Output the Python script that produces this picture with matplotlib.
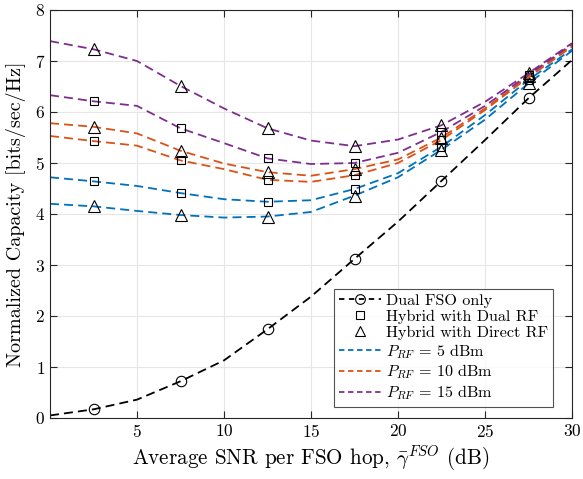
import matplotlib
matplotlib.use("Agg")
import matplotlib.pyplot as plt
import numpy as np

plt.rcParams["font.family"] = ["cmr10", "DejaVu Serif"]
plt.rcParams["mathtext.fontset"] = "cm"
plt.rcParams["axes.formatter.use_mathtext"] = True

# SNR grid (dB) and marker positions
snr = [0, 2.5, 5, 7.5, 10, 12.5, 15, 17.5, 20, 22.5, 25, 27.5, 30]
mark_snr = [2.5, 7.5, 12.5, 17.5, 22.5, 27.5]

dual_fso = [0.05, 0.17, 0.36, 0.72, 1.13, 1.74, 2.38, 3.12, 3.85, 4.65, 5.45, 6.27, 7.02]

# dual RF (squares) and direct RF (triangles) per RF power
dual_rf_5 = [4.72, 4.64, 4.55, 4.41, 4.29, 4.24, 4.27, 4.49, 4.80, 5.32, 5.94, 6.63, 7.23]
direct_rf_5 = [4.20, 4.15, 4.06, 3.98, 3.93, 3.95, 4.04, 4.36, 4.72, 5.26, 5.85, 6.56, 7.20]
dual_rf_10 = [5.53, 5.43, 5.34, 5.05, 4.88, 4.67, 4.63, 4.76, 5.00, 5.45, 6.04, 6.68, 7.28]
direct_rf_10 = [5.78, 5.71, 5.58, 5.24, 4.99, 4.82, 4.75, 4.88, 5.07, 5.50, 6.07, 6.70, 7.30]
dual_rf_15 = [6.33, 6.21, 6.12, 5.68, 5.39, 5.09, 4.98, 5.00, 5.20, 5.61, 6.12, 6.73, 7.33]
direct_rf_15 = [7.39, 7.23, 7.00, 6.51, 6.07, 5.68, 5.44, 5.33, 5.46, 5.74, 6.20, 6.76, 7.35]

powers = [5, 10, 15]
colors = ["#0072BD", "#D95319", "#7E2F8E"]

fig = plt.figure(figsize=(5.83, 4.79), dpi=100)
ax = fig.add_axes([50 / 583, 1 - 418 / 479, 522 / 583, 408 / 479])

dash = (5, 2.8)
lw = 1.3
idx = [snr.index(m) for m in mark_snr]
mk = dict(ls="none", mfc="none", mec="k", mew=0.8)

ax.plot(snr, dual_fso, color="k", lw=lw, dashes=dash)
ax.plot(mark_snr, [dual_fso[i] for i in idx], marker="o", ms=7.5, **mk)

series = [(dual_rf_5, direct_rf_5), (dual_rf_10, direct_rf_10), (dual_rf_15, direct_rf_15)]
for (sq, tr), c in zip(series, colors):
    ax.plot(snr, sq, color=c, lw=lw, dashes=dash)
    ax.plot(snr, tr, color=c, lw=lw, dashes=dash)
    ax.plot(mark_snr, [sq[i] for i in idx], marker="s", ms=6, **mk)
    ax.plot(mark_snr, [tr[i] for i in idx], marker="^", ms=8, **mk)

# legend proxies
h = [ax.plot([], [], color="k", lw=lw, dashes=(3, 2.5), marker="o", ms=7,
             mfc="none", mec="k", mew=0.8)[0],
     ax.plot([], [], marker="s", ms=5.5, **mk)[0],
     ax.plot([], [], marker="^", ms=7, **mk)[0]]
for p, c in zip(powers, colors):
    h.append(ax.plot([], [], color=c, lw=lw, dashes=(3, 2))[0])
labels = ["Dual FSO only", "Hybrid with Dual RF", "Hybrid with Direct RF"] + \
         [r"$P_{RF}\,=\,%d$ dBm" % p for p in powers]
leg = ax.legend(h, labels, loc="lower right", bbox_to_anchor=(0.964, 0.027),
                fontsize=11.6, frameon=True, fancybox=False, handlelength=2.6,
                borderpad=0.3, labelspacing=0.12, handletextpad=0.35,
                borderaxespad=0)
leg.get_frame().set_edgecolor("#262626")
leg.get_frame().set_linewidth(0.8)

ax.set_xlim(0, 30)
ax.set_ylim(0, 8)
ax.set_xticks([5, 10, 15, 20, 25, 30])
ax.set_yticks(range(0, 9))
ax.grid(True, color="#e6e6e6", lw=0.8)
ax.set_axisbelow(True)
ax.tick_params(direction="in", top=True, right=True, labelsize=12.5, length=5,
               color="#262626")
for s in ax.spines.values():
    s.set_color("#262626")
    s.set_linewidth(0.8)

ax.set_xlabel(r"Average SNR per FSO hop, $\bar{\gamma}^{FSO}$ (dB)", fontsize=15.2,
              labelpad=3)
ax.set_ylabel("Normalized Capacity [bits/sec/Hz]", fontsize=14.5, labelpad=6)

fig.savefig("out.png", dpi=100)
